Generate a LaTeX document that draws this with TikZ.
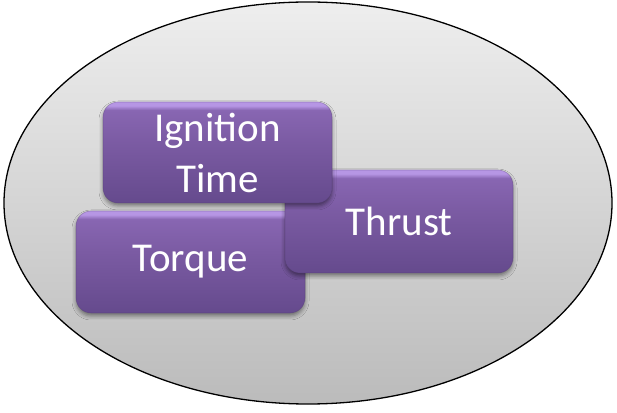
\documentclass[tikz,border=0pt]{standalone}
\usepackage{fontspec}
\setmainfont{Carlito}
\usetikzlibrary{shadows.blur}

\definecolor{ovaltop}{HTML}{EEEEEE}
\definecolor{ovalbot}{HTML}{BBBBBB}
\definecolor{pbot}{HTML}{654A8D}
\definecolor{pmid}{HTML}{7B5BA3}
\definecolor{ptop}{HTML}{8866B2}
\definecolor{phl}{HTML}{B696E4}

% glossy purple fill: dark at the bottom, a light rim along the top edge
\pgfdeclareverticalshading{boxgloss}{100bp}{%
  color(0bp)=(pbot); color(25bp)=(pbot); color(55bp)=(pmid);
  color(71bp)=(ptop); color(73.2bp)=(phl); color(75bp)=(phl); color(100bp)=(phl)}

\tikzset{
  oval/.style={draw=black, line width=1.3pt, top color=ovaltop, bottom color=ovalbot},
  tile/.style={rounded corners=15pt, shading=boxgloss, draw=pbot!80!black, draw opacity=0.35,
    line width=0.6pt, minimum width=#1, align=center, text=white,
    font=\fontsize{41}{51}\selectfont, inner sep=0pt,
    blur shadow={shadow xshift=0pt, shadow yshift=-3pt, shadow blur radius=4pt,
      shadow opacity=45}},
}

\begin{document}
\begin{tikzpicture}[x=1pt,y=1pt]
  \useasboundingbox (0,0) rectangle (617,412);
  \path[oval] (308,209) ellipse [x radius=304, y radius=201];

  \node[tile=229pt, minimum height=102pt] (torque) at (190.5,150) {Torque};
  \node[tile=228pt, minimum height=103pt] (thrust) at (399,190.5) {Thrust};
  \node[tile=229pt, minimum height=101pt] (ignition) at (217.5,259.5) {Ignition\\Time};
\end{tikzpicture}
\end{document}
